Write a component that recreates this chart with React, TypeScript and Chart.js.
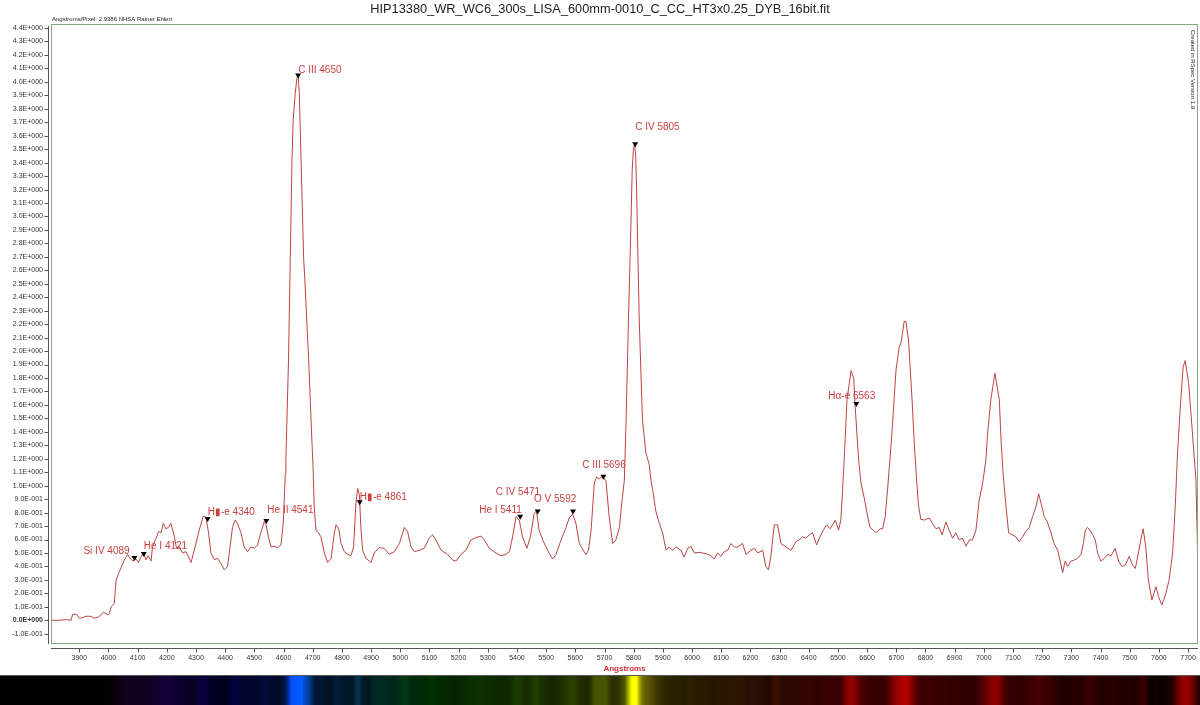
import React, { useEffect, useRef } from 'react';
import { Chart, registerables } from 'chart.js';

Chart.register(...registerables);

// ---------- data ----------
const WAVELENGTHS = [
  3803, 3830, 3855, 3872, 3877, 3891, 3900, 3912, 3923, 3940, 3950, 3957, 3966, 3974, 3982, 3991, 3998, 4003, 4009, 4020,
  4026, 4037, 4043, 4054, 4066, 4071, 4083, 4094, 4103, 4111, 4119, 4129, 4136, 4146, 4151, 4163, 4172, 4180, 4188, 4197,
  4205, 4214, 4226, 4233, 4243, 4254, 4266, 4283, 4294, 4311, 4325, 4334, 4343, 4351, 4363, 4374, 4386, 4397, 4408, 4414,
  4425, 4434, 4442, 4454, 4465, 4477, 4488, 4500, 4511, 4523, 4534, 4540, 4548, 4557, 4568, 4580, 4591, 4599, 4606, 4608,
  4617, 4623, 4629, 4633, 4640, 4646, 4650, 4654, 4660, 4669, 4673, 4686, 4697, 4701, 4705, 4711, 4720, 4728, 4740, 4751,
  4763, 4774, 4780, 4789, 4797, 4808, 4820, 4831, 4840, 4848, 4854, 4860, 4865, 4871, 4882, 4900, 4911, 4928, 4945, 4962,
  4980, 4997, 5014, 5025, 5037, 5048, 5065, 5082, 5099, 5111, 5122, 5140, 5162, 5179, 5191, 5208, 5225, 5242, 5259, 5277,
  5288, 5305, 5328, 5345, 5362, 5374, 5385, 5397, 5408, 5419, 5434, 5446, 5459, 5467, 5476, 5488, 5505, 5522, 5534, 5551,
  5568, 5579, 5591, 5602, 5614, 5623, 5636, 5645, 5654, 5665, 5673, 5682, 5693, 5705, 5716, 5728, 5739, 5751, 5760, 5768,
  5774, 5782, 5791, 5795, 5799, 5803, 5807, 5810, 5812, 5819, 5830, 5842, 5853, 5859, 5865, 5876, 5888, 5899, 5911, 5922, 5933,
  5945, 5962, 5973, 5985, 5996, 6008, 6025, 6048, 6065, 6076, 6087, 6099, 6110, 6122, 6133, 6145, 6156, 6173, 6185, 6202,
  6213, 6225, 6242, 6253, 6262, 6270, 6282, 6293, 6305, 6322, 6339, 6356, 6367, 6379, 6390, 6402, 6413, 6427, 6436, 6450,
  6461, 6473, 6482, 6491, 6502, 6510, 6516, 6522, 6531, 6545, 6554, 6559, 6571, 6579, 6590, 6602, 6610, 6621, 6632, 6644,
  6653, 6662, 6670, 6678, 6685, 6699, 6710, 6716, 6721, 6727, 6733, 6742, 6754, 6761, 6769, 6776, 6784, 6796, 6813, 6824,
  6836, 6847, 6857, 6870, 6881, 6893, 6904, 6916, 6927, 6939, 6950, 6961, 6973, 6984, 6996, 7007, 7013, 7024, 7038, 7053,
  7059, 7066, 7076, 7085, 7098, 7110, 7121, 7133, 7144, 7156, 7167, 7179, 7188, 7196, 7207, 7218, 7230, 7241, 7253, 7261,
  7270, 7279, 7287, 7299, 7310, 7321, 7333, 7341, 7348, 7355, 7364, 7373, 7382, 7390, 7401, 7413, 7424, 7436, 7450, 7462,
  7473, 7485, 7498, 7510, 7519, 7530, 7538, 7546, 7555, 7564, 7576, 7590, 7599, 7610, 7624, 7635, 7647, 7656, 7664, 7675,
  7683, 7690, 7702, 7715, 7727, 7732,
];

const FLUX = [
  0.0, 0.0, 0.005, 0.0, 0.045, 0.045, 0.015, 0.02, 0.03, 0.03, 0.015, 0.02, 0.025, 0.04, 0.06, 0.05, 0.04, 0.05, 0.1, 0.126,
  0.3, 0.36, 0.39, 0.45, 0.49, 0.47, 0.44, 0.455, 0.43, 0.47, 0.5, 0.45, 0.48, 0.44, 0.55, 0.61, 0.66, 0.65, 0.72, 0.68,
  0.69, 0.72, 0.62, 0.535, 0.545, 0.5, 0.51, 0.43, 0.52, 0.67, 0.775, 0.765, 0.65, 0.5, 0.45, 0.46, 0.42, 0.375, 0.4, 0.5,
  0.69, 0.745, 0.72, 0.65, 0.545, 0.51, 0.545, 0.535, 0.56, 0.66, 0.733, 0.71, 0.62, 0.545, 0.55, 0.54, 0.56, 0.72, 1.09, 1.19,
  1.935, 2.68, 3.42, 3.72, 3.915, 4.03, 4.05, 3.915, 3.42, 2.68, 2.53, 1.935, 1.34, 1.15, 0.845, 0.67, 0.65, 0.62, 0.5, 0.43,
  0.46, 0.65, 0.71, 0.68, 0.57, 0.51, 0.49, 0.48, 0.545, 0.87, 0.98, 0.93, 0.69, 0.52, 0.46, 0.43, 0.5, 0.54, 0.535, 0.49,
  0.51, 0.57, 0.69, 0.66, 0.545, 0.51, 0.52, 0.535, 0.61, 0.635, 0.597, 0.52, 0.49, 0.448, 0.44, 0.49, 0.52, 0.597, 0.615, 0.625,
  0.597, 0.535, 0.5, 0.48, 0.49, 0.51, 0.62, 0.77, 0.745, 0.62, 0.535, 0.62, 0.795, 0.81, 0.67, 0.597, 0.52, 0.455, 0.49, 0.597,
  0.69, 0.76, 0.79, 0.72, 0.57, 0.535, 0.49, 0.52, 0.67, 1.02, 1.065, 1.05, 1.07, 1.035, 0.77, 0.57, 0.597, 0.69, 0.89, 1.04,
  1.49, 2.23, 2.976, 3.35, 3.5, 3.54, 3.45, 3.2, 2.976, 2.23, 1.49, 1.24, 1.16, 1.04, 0.97, 0.81, 0.72, 0.65, 0.52, 0.545, 0.52,
  0.545, 0.52, 0.47, 0.535, 0.55, 0.5, 0.505, 0.495, 0.48, 0.455, 0.5, 0.475, 0.51, 0.52, 0.57, 0.545, 0.545, 0.57, 0.49, 0.52,
  0.535, 0.5, 0.52, 0.4, 0.375, 0.475, 0.71, 0.71, 0.57, 0.545, 0.52, 0.585, 0.597, 0.62, 0.61, 0.635, 0.65, 0.56, 0.61, 0.67,
  0.71, 0.68, 0.71, 0.745, 0.67, 0.745, 0.97, 1.215, 1.64, 1.855, 1.8, 1.59, 1.19, 1.02, 0.91, 0.77, 0.69, 0.67, 0.65, 0.68,
  0.68, 0.77, 0.97, 1.19, 1.39, 1.86, 2.03, 2.06, 2.13, 2.22, 2.22, 2.08, 1.64, 1.34, 1.06, 0.857, 0.75, 0.745, 0.76, 0.72,
  0.68, 0.69, 0.635, 0.73, 0.67, 0.61, 0.65, 0.597, 0.61, 0.55, 0.597, 0.597, 0.67, 0.89, 1.02, 1.19, 1.39, 1.64, 1.835, 1.64,
  1.34, 1.09, 0.845, 0.65, 0.635, 0.62, 0.585, 0.62, 0.66, 0.69, 0.77, 0.845, 0.94, 0.87, 0.77, 0.73, 0.65, 0.57, 0.52, 0.448,
  0.355, 0.44, 0.4, 0.44, 0.448, 0.46, 0.49, 0.57, 0.67, 0.69, 0.67, 0.635, 0.597, 0.5, 0.44, 0.46, 0.49, 0.48, 0.535, 0.44,
  0.4, 0.41, 0.475, 0.41, 0.385, 0.5, 0.597, 0.68, 0.545, 0.3, 0.15, 0.25, 0.175, 0.114, 0.2, 0.3, 0.5, 0.845, 1.25, 1.64,
  1.88, 1.93, 1.76, 1.39, 1.04, 0.545,
];

// identified emission lines
const LINE_NAMES = [
  'Si IV 4089', 'He I 4121', 'H\u25AE-e 4340', 'He II 4541', 'C III 4650', 'H\u25AE-e 4861',
  'He I 5411', 'C IV 5471', 'O V 5592', 'C III 5696', 'C IV 5805', 'H\u03B1-e 6563',
];
const LINE_WAVELENGTHS = [4089, 4121, 4340, 4541, 4650, 4861, 5411, 5471, 5592, 5696, 5805, 6563];
const LINE_MARKER_FLUX = [0.455, 0.485, 0.745, 0.73, 4.04, 0.87, 0.762, 0.8, 0.8, 1.06, 3.53, 1.6];

// label placement relative to each marker (pixels) - layout only
const LABEL_OFFSETS: [number, number][] = [
  [-51, -8], [0, -9], [0, -8], [1, -12], [0, -6], [0, -6],
  [-41, -7], [-42, -20], [-39, -13], [-21, -12], [0, -18], [-28, -9],
];

const X_MIN = 3803;
const X_MAX = 7734;
const X_STEP = 100;
const Y_MIN = -0.176;
const Y_MAX = 4.43;
const Y_STEP = 0.1;

const TITLE = 'HIP13380_WR_WC6_300s_LISA_600mm-0010_C_CC_HT3x0.25_DYB_16bit.fit';
const SUBTITLE = 'Angstroms/Pixel: 2.9386 NHSA Rainer Ehlert';
const SIDE_NOTE = 'Created in RSpec Version 1.9';
const X_LABEL = 'Angstroms';

// ---------- styles ----------
const FONT = '"Liberation Sans", Arial, sans-serif';
const LINE_COLOR = '#bb4444';
const LABEL_COLOR = '#c8403f';
const FRAME_COLOR = '#86a886';
const AXIS_COLOR = '#555555';
const TICK_TEXT = '#333333';

function sci(v: number): string {
  const s = v.toExponential(1);
  const [m, e] = s.split('e');
  const n = parseInt(e, 10);
  return m + 'E' + (n < 0 ? '-' : '+') + String(Math.abs(n)).padStart(3, '0');
}

function fluxAt(w: number): number {
  if (w <= WAVELENGTHS[0]) return FLUX[0];
  const last = WAVELENGTHS.length - 1;
  if (w >= WAVELENGTHS[last]) return FLUX[last];
  let lo = 0;
  let hi = last;
  while (hi - lo > 1) {
    const mid = (lo + hi) >> 1;
    if (WAVELENGTHS[mid] <= w) lo = mid;
    else hi = mid;
  }
  const t = (w - WAVELENGTHS[lo]) / (WAVELENGTHS[hi] - WAVELENGTHS[lo]);
  return FLUX[lo] + t * (FLUX[hi] - FLUX[lo]);
}

function waveColor(nm: number): [number, number, number] {
  let r = 0, g = 0, b = 0;
  if (nm < 380) return [0, 0, 0];
  if (nm < 440) { r = -(nm - 440) / 60; b = 1; }
  else if (nm < 490) { g = (0.7 * (nm - 440)) / 50; b = 1; }
  else if (nm < 510) { g = 1; b = -(nm - 510) / 20; }
  else if (nm < 580) { r = (nm - 510) / 70; g = 1; }
  else if (nm < 645) { r = 1; g = -(nm - 645) / 65; }
  else if (nm <= 800) { r = 1; }
  let f = 1;
  if (nm < 420) f = 0.3 + (0.7 * (nm - 380)) / 40;
  return [r * f, g * f, b * f];
}

const decorPlugin = {
  id: 'decor',
  beforeDraw(chart: any) {
    const { ctx, width, height } = chart;
    ctx.save();
    ctx.fillStyle = '#ffffff';
    ctx.fillRect(0, 0, width, height);
    ctx.restore();
  },
  afterDraw(chart: any) {
    const { ctx, chartArea: a, width, height } = chart;
    const xs = chart.scales.x;
    const ys = chart.scales.y;
    ctx.save();

    // plot frame
    ctx.strokeStyle = FRAME_COLOR;
    ctx.lineWidth = 1;
    ctx.strokeRect(a.left + 0.5, a.top + 0.5, a.right - a.left - 1, a.bottom - a.top - 1);

    // y axis line and ticks
    ctx.strokeStyle = AXIS_COLOR;
    const axX = a.left - 2.5;
    ctx.beginPath();
    ctx.moveTo(axX, a.top + 2);
    ctx.lineTo(axX, a.bottom);
    for (const t of ys.ticks) {
      const py = Math.round(ys.getPixelForValue(t.value)) + 0.5;
      ctx.moveTo(axX - 4, py);
      ctx.lineTo(axX, py);
    }
    // x axis line and ticks
    const axY = a.bottom + 4.5;
    ctx.moveTo(a.left, axY);
    ctx.lineTo(a.right, axY);
    for (const t of xs.ticks) {
      const px = Math.round(xs.getPixelForValue(t.value)) + 0.5;
      ctx.moveTo(px, axY);
      ctx.lineTo(px, axY + 4);
    }
    ctx.stroke();

    // title + notes
    ctx.fillStyle = '#222222';
    ctx.font = `12.8px ${FONT}`;
    ctx.textAlign = 'center';
    ctx.textBaseline = 'middle';
    ctx.fillText(TITLE, width / 2, 9);

    ctx.font = `6px ${FONT}`;
    ctx.textAlign = 'left';
    ctx.fillText(SUBTITLE, a.left + 1, 19);

    ctx.save();
    ctx.translate(a.right - 5, a.top + 6);
    ctx.rotate(Math.PI / 2);
    ctx.textAlign = 'left';
    ctx.textBaseline = 'middle';
    ctx.fillText(SIDE_NOTE, 0, 0);
    ctx.restore();

    // x axis title
    ctx.fillStyle = '#d03030';
    ctx.font = `bold 8px ${FONT}`;
    ctx.textAlign = 'center';
    ctx.textBaseline = 'middle';
    ctx.fillText(X_LABEL, (a.left + a.right) / 2, 669);

    // line identifications
    for (let i = 0; i < LINE_NAMES.length; i++) {
      const px = xs.getPixelForValue(LINE_WAVELENGTHS[i]);
      const py = ys.getPixelForValue(LINE_MARKER_FLUX[i]);
      ctx.fillStyle = '#000000';
      ctx.beginPath();
      ctx.moveTo(px - 3, py - 3);
      ctx.lineTo(px + 3, py - 3);
      ctx.lineTo(px, py + 2);
      ctx.closePath();
      ctx.fill();
      ctx.fillStyle = LABEL_COLOR;
      ctx.font = `10px ${FONT}`;
      ctx.textAlign = 'left';
      ctx.textBaseline = 'middle';
      ctx.fillText(LINE_NAMES[i], px + LABEL_OFFSETS[i][0], py + LABEL_OFFSETS[i][1]);
    }

    // synthetic spectrum strip, coloured from the data through the x scale
    const stripTop = 675;
    for (let px = 0; px < width; px++) {
      const w = xs.getValueForPixel(px + 0.5);
      let c: [number, number, number] = [0, 0, 0];
      if (w >= X_MIN - 5) {
        const inten = Math.max(0, Math.min(1, fluxAt(w) / 3.2));
        const base = waveColor(w / 10);
        c = [base[0] * inten, base[1] * inten, base[2] * inten];
      }
      ctx.fillStyle = `rgb(${Math.round(c[0] * 255)},${Math.round(c[1] * 255)},${Math.round(c[2] * 255)})`;
      ctx.fillRect(px, stripTop, 1, height - stripTop);
    }
    ctx.fillStyle = '#555555';
    ctx.fillRect(0, stripTop, width, 1);

    ctx.restore();
  },
};

export default function App() {
  const canvasRef = useRef<HTMLCanvasElement | null>(null);

  useEffect(() => {
    const canvas = canvasRef.current;
    if (!canvas) return;
    const points = WAVELENGTHS.map((w, i) => ({ x: w, y: FLUX[i] }));
    const chart = new Chart(canvas, {
      type: 'scatter',
      data: {
        datasets: [
          {
            data: points,
            showLine: true,
            borderColor: LINE_COLOR,
            backgroundColor: LINE_COLOR,
            borderWidth: 1,
            pointRadius: 0,
            tension: 0,
          },
        ],
      },
      options: {
        animation: false,
        responsive: false,
        maintainAspectRatio: false,
        events: [],
        layout: { padding: { top: 24, left: 0, right: 2, bottom: 37 } },
        plugins: {
          legend: { display: false },
          tooltip: { enabled: false },
          title: { display: false },
        },
        scales: {
          x: {
            type: 'linear',
            min: X_MIN,
            max: X_MAX,
            border: { display: false },
            grid: { display: false, drawTicks: false },
            ticks: {
              stepSize: X_STEP,
              includeBounds: false,
              autoSkip: false,
              maxRotation: 0,
              minRotation: 0,
              padding: 10,
              color: TICK_TEXT,
              font: { family: FONT, size: 7 },
              callback: (v: any) => String(Math.round(Number(v))),
            },
            afterFit: (s: any) => {
              s.height = 24;
              s.paddingLeft = 0;
              s.paddingRight = 0;
            },
          },
          y: {
            type: 'linear',
            min: Y_MIN,
            max: Y_MAX,
            border: { display: false },
            grid: { display: false, drawTicks: false },
            ticks: {
              stepSize: Y_STEP,
              includeBounds: false,
              autoSkip: false,
              padding: 8,
              color: TICK_TEXT,
              font: (c: any) => ({
                family: FONT,
                size: 7,
                weight: c.tick && Math.abs(c.tick.value) < 1e-9 ? 'bold' : 'normal',
              }),
              callback: (v: any) => sci(Number(v)),
            },
            afterFit: (s: any) => {
              s.width = 51;
              s.paddingTop = 0;
              s.paddingBottom = 0;
            },
          },
        },
      },
      plugins: [decorPlugin],
    } as any);
    return () => chart.destroy();
  }, []);

  return (
    <div style={{ position: 'fixed', left: 0, top: 0, width: 1200, height: 705, background: '#fff' }}>
      <canvas ref={canvasRef} width={1200} height={705} style={{ display: 'block', width: 1200, height: 705 }} />
    </div>
  );
}
